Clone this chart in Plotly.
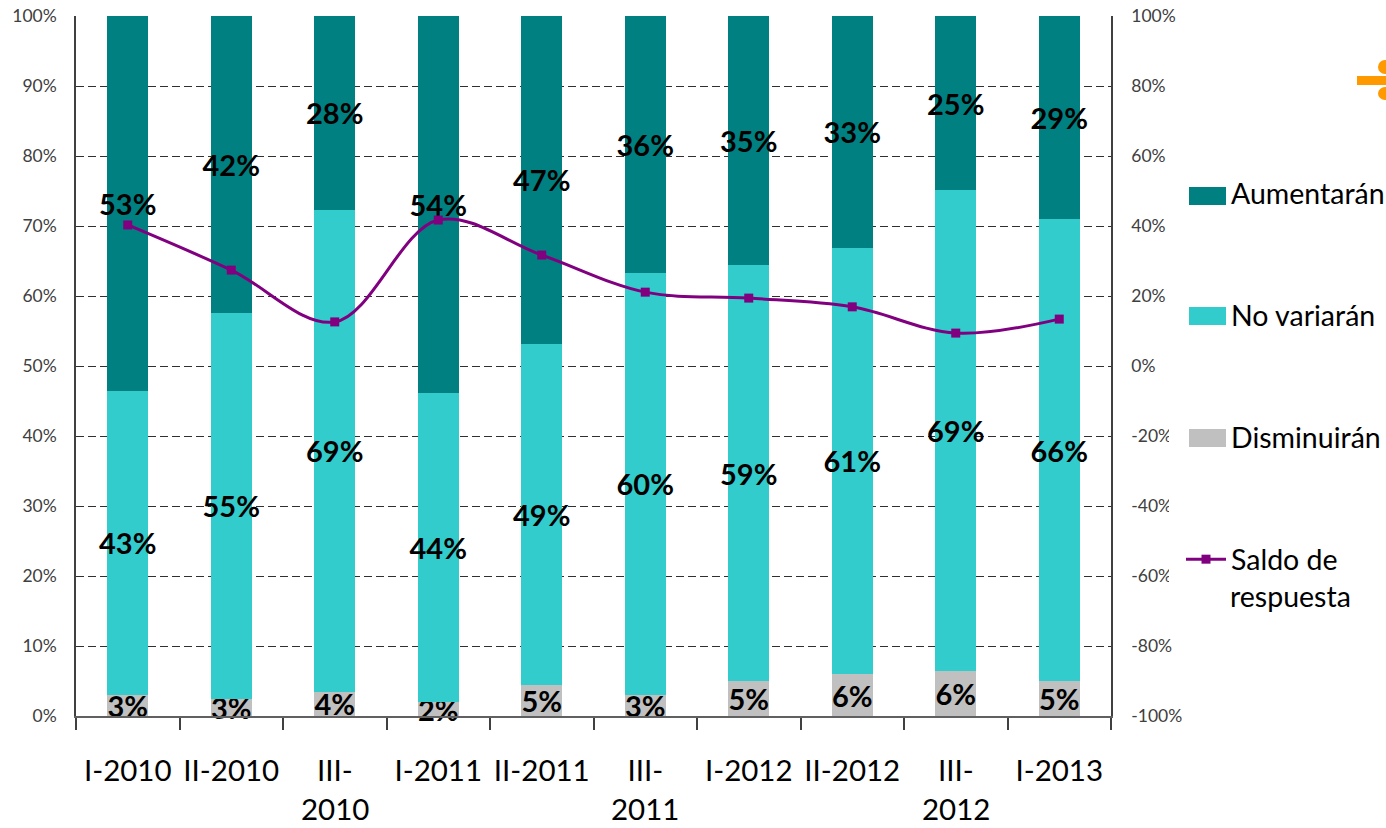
import plotly.graph_objects as go

W, H = 1386, 828
L, R, T, B = 76, 1111, 16, 716

categories = ["I-2010", "II-2010", "III-\n2010", "I-2011", "II-2011", "III-\n2011", "I-2012", "II-2012", "III-\n2012", "I-2013"]
disminuiran = [3.0, 2.5, 3.5, 2.0, 4.5, 3.0, 5.0, 6.0, 6.5, 5.0]
no_variaran = [43.5, 55.1, 68.8, 44.1, 48.7, 60.3, 59.4, 60.9, 68.6, 66.0]
aumentaran = [53.5, 42.4, 27.7, 53.9, 46.8, 36.7, 35.6, 33.1, 24.9, 29.0]
saldo = [40.3, 27.4, 12.6, 41.7, 31.7, 21.1, 19.4, 16.9, 9.4, 13.4]
label_dis = ["3%", "3%", "4%", "2%", "5%", "3%", "5%", "6%", "6%", "5%"]
label_no = ["43%", "55%", "69%", "44%", "49%", "60%", "59%", "61%", "69%", "66%"]
label_au = ["53%", "42%", "28%", "54%", "47%", "36%", "35%", "33%", "25%", "29%"]
left_ticks = [0, 10, 20, 30, 40, 50, 60, 70, 80, 90, 100]
right_ticks = [-100, -80, -60, -40, -20, 0, 20, 40, 60, 80, 100]

TEAL, CYAN, GREY, PURPLE, ORANGE = "#008080", "#33CCCC", "#C0C0C0", "#800080", "#FF9900"
FONT = "Lato, Carlito, sans-serif"


def px(x):
    return (x - L) / (R - L)


def py(y):
    return (B - y) / (B - T)


fig = go.Figure()
for name, vals, labels, colour, rank in [
    ("Disminuirán", disminuiran, label_dis, GREY, 3),
    ("No variarán", no_variaran, label_no, CYAN, 2),
    ("Aumentarán", aumentaran, label_au, TEAL, 1),
]:
    fig.add_trace(go.Bar(
        x=categories, y=vals, name=name, text=labels, marker_color=colour,
        marker_line_width=0, legendrank=rank, legendgroup=name,
        textposition="inside", insidetextanchor="middle", constraintext="none",
        textangle=0, cliponaxis=False, hoverinfo="skip",
        textfont=dict(family=FONT, size=29, color="#000000", weight="bold"),
    ))
fig.add_trace(go.Scatter(
    x=categories, y=saldo, name="Saldo de", yaxis="y2", mode="lines+markers",
    legendrank=4, legendgroup="Saldo",
    line=dict(color=PURPLE, width=3, shape="spline", smoothing=1.0),
    marker=dict(symbol="square", size=9, color=PURPLE),
))


def rect(x0, x1, y0, y1, colour):
    return dict(type="rect", xref="paper", yref="paper", x0=px(x0), x1=px(x1), y0=py(y0), y1=py(y1),
                fillcolor=colour, line_width=0, layer="above")


def dot(x0, x1, y0, y1, colour):
    return dict(type="circle", xref="paper", yref="paper", x0=px(x0), x1=px(x1), y0=py(y0), y1=py(y1),
                fillcolor=colour, line_width=0, layer="above")


shapes = [
    rect(1189, 1226, 205, 187, TEAL),
    rect(1189, 1226, 325, 307, CYAN),
    rect(1189, 1226, 447, 429, GREY),
    rect(1169, 1186, 592, 425, "#FFFFFF"),
    rect(1357, 1386, 85, 76, ORANGE),
    dot(1378, 1392, 74, 60, ORANGE),
    dot(1378, 1392, 100, 87, ORANGE),
]

annotations = [dict(
    x=px(1231), y=py(595.5), xref="paper", yref="paper", text="respuesta", showarrow=False,
    xanchor="left", yanchor="middle", xshift=-3, font=dict(family=FONT, size=28.5, color="#000000"),
)]
ticktext = []
for c in categories:
    parts = c.split("\n")
    ticktext.append(parts[0])
    if len(parts) > 1:
        annotations.append(dict(
            x=c, y=py(808.5), xref="x", yref="paper", text=parts[1], showarrow=False,
            yanchor="middle", font=dict(family=FONT, size=29.5, color="#000000"),
        ))

fig.update_layout(
    width=W, height=H, autosize=False,
    margin=dict(l=L, r=W - R, t=T, b=H - B, autoexpand=False),
    paper_bgcolor="#FFFFFF", plot_bgcolor="#FFFFFF",
    barmode="stack", bargap=0.6,
    showlegend=True,
    legend=dict(
        x=px(1181), xanchor="left", y=py(168), yanchor="top",
        bgcolor="rgba(0,0,0,0)", borderwidth=0, traceorder="grouped",
        tracegroupgap=82, itemwidth=40, itemclick=False,
        font=dict(family=FONT, size=28.5, color="#000000"),
    ),
    xaxis=dict(
        type="category", tickmode="array", tickvals=categories, ticktext=ticktext,
        range=[-0.5, 9.5], automargin=False,
        tickson="boundaries", ticks="outside", ticklen=12, tickcolor="#404040", tickwidth=1.5,
        showline=True, linecolor="#606060", linewidth=1.5, showgrid=False,
        tickangle=0, ticklabelstandoff=28,
        tickfont=dict(family=FONT, size=29.5, color="#000000"),
    ),
    yaxis=dict(
        range=[0, 100], tickmode="array", tickvals=left_ticks,
        ticktext=[f"{v}%" for v in left_ticks], automargin=False,
        showline=True, linecolor="#404040", linewidth=1.5, ticks="", zeroline=False,
        showgrid=True, gridcolor="#303030", gridwidth=1.3, griddash="8px,4px",
        ticklabelstandoff=14,
        tickfont=dict(family=FONT, size=17.5, color="#404040"),
    ),
    yaxis2=dict(
        range=[-100, 100], overlaying="y", side="right", tickmode="array", tickvals=right_ticks,
        ticktext=[f"{v}%" for v in right_ticks], automargin=False,
        showline=True, linecolor="#404040", linewidth=1.5, ticks="", zeroline=False, showgrid=False,
        ticklabelstandoff=15,
        tickfont=dict(family=FONT, size=17.5, color="#404040"),
    ),
    shapes=shapes,
    annotations=annotations,
)

fig.write_html("out.html", config={"displayModeBar": False},
               post_script="document.body.style.margin='0';document.body.style.overflow='hidden';")
